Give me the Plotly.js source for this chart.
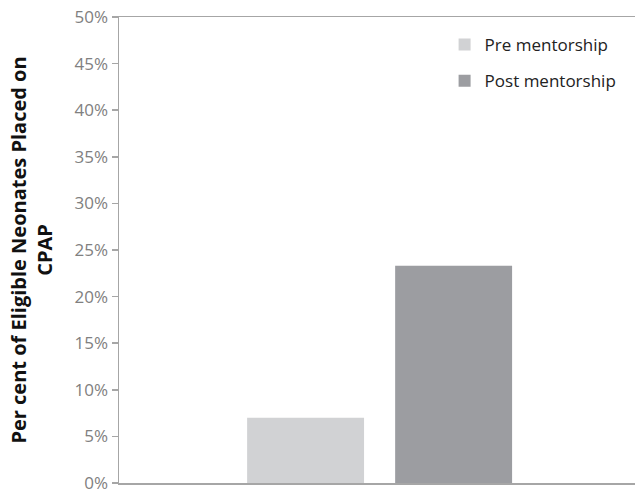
<!DOCTYPE html>
<html>
<head>
<meta charset="utf-8">
<script src="https://cdn.plot.ly/plotly-3.0.1.min.js"></script>
<style>html,body{margin:0;padding:0;background:#fff;}#chart{width:635px;height:493px;}</style>
</head>
<body>
<div id="chart"></div>
<script>
var categories = ["CPAP"];
var seriesNames = ["Pre mentorship", "Post mentorship"];
var preValues = [7.0];
var postValues = [23.3];
var yTickValues = [0, 5, 10, 15, 20, 25, 30, 35, 40, 45, 50];
var yTickLabels = ["0%", "5%", "10%", "15%", "20%", "25%", "30%", "35%", "40%", "45%", "50%"];

var font = "Open Sans, Noto Sans, sans-serif";
var traces = [
  {type: "bar", x: categories, y: preValues, name: seriesNames[0],
   marker: {color: "#d1d2d4"}, legend: "legend", hoverinfo: "skip"},
  {type: "bar", x: categories, y: postValues, name: seriesNames[1],
   marker: {color: "#9c9da1"}, legend: "legend2", hoverinfo: "skip"}
];
var legendBase = {xanchor: "left", yanchor: "middle", bgcolor: "rgba(0,0,0,0)",
  font: {family: font, size: 17, color: "#222"}, itemclick: false};
var layout = {
  width: 635, height: 493,
  margin: {l: 119, r: 0, t: 17, b: 10},
  paper_bgcolor: "#fff", plot_bgcolor: "#fff",
  barmode: "group", bargap: 0.432, bargroupgap: 0.21,
  showlegend: true,
  legend: Object.assign({x: 0.631, y: 0.94}, legendBase),
  legend2: Object.assign({x: 0.631, y: 0.862}, legendBase),
  xaxis: {type: "category", range: [-0.5, 0.49], showticklabels: false,
    showline: true, mirror: true, linecolor: "#a6a6a6", linewidth: 1.5,
    ticks: "", showgrid: false, zeroline: false, fixedrange: true},
  yaxis: {range: [0, 50], tickmode: "array", tickvals: yTickValues, ticktext: yTickLabels,
    ticklabeloverflow: "allow",
    showline: true, linecolor: "#a6a6a6", linewidth: 1.5,
    ticks: "outside", ticklen: 6, tickcolor: "#a6a6a6", tickwidth: 1.5,
    showgrid: false, zeroline: false,
    tickfont: {family: font, size: 17, color: "#808080"},
    title: {text: "<b>Per cent of Eligible Neonates Placed on<br>CPAP</b>",
      font: {family: font, size: 20, color: "#111"}, standoff: 16}}
};
Plotly.newPlot("chart", traces, layout, {staticPlot: true, displayModeBar: false});
</script>
</body>
</html>
